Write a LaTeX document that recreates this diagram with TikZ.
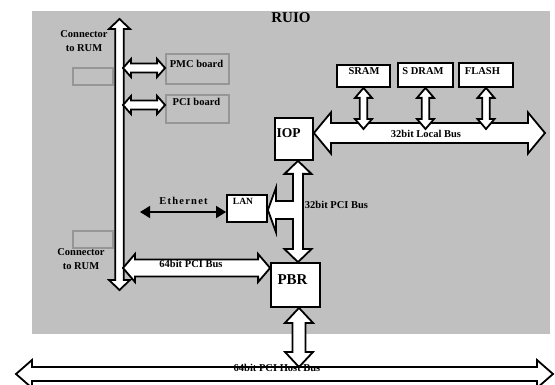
\documentclass[tikz,border=0pt]{standalone}
\usepackage{fontspec}
\setmainfont{Liberation Serif}
\usetikzlibrary{calc,arrows.meta}

\definecolor{panelgray}{RGB}{192,192,192}
\definecolor{boardgray}{RGB}{150,150,150}

% Outlined double-headed block arrow between two points.
% #1 start, #2 end, #3 shaft half width, #4 head half width, #5 head length
\newcommand\blockarrow[5]{%
  \path (#1) coordinate (ba-a) (#2) coordinate (ba-b);
  \path ($(ba-a)!#5!(ba-b)$) coordinate (ba-p)
        ($(ba-b)!#5!(ba-a)$) coordinate (ba-q);
  \draw[busarrow] (ba-a)
    -- ($(ba-p)!#4!90:(ba-b)$) -- ($(ba-p)!#3!90:(ba-b)$)
    -- ($(ba-q)!#3!-90:(ba-a)$) -- ($(ba-q)!#4!-90:(ba-a)$)
    -- (ba-b)
    -- ($(ba-q)!#4!90:(ba-a)$) -- ($(ba-q)!#3!90:(ba-a)$)
    -- ($(ba-p)!#3!-90:(ba-b)$) -- ($(ba-p)!#4!-90:(ba-b)$)
    -- cycle;
}

\begin{document}
\begin{tikzpicture}[x=1pt,y=-1pt,
  busarrow/.style={draw=black, fill=white, line width=1.8pt, line join=miter},
  chip/.style={draw=black, fill=white, line width=1.8pt, inner sep=0},
  board/.style={draw=boardgray, line width=1.8pt, inner sep=0},
  lbl/.style={font=\fontsize{10.5}{14}\selectfont\bfseries, inner sep=0, align=center},
  biglbl/.style={font=\fontsize{14}{16}\selectfont\bfseries, inner sep=0},
]
\useasboundingbox (0,0) rectangle (555,385);

% RUIO card area
\fill[panelgray] (32,11) rectangle (550,334);
\node[biglbl, font=\fontsize{15}{17}\selectfont\bfseries] (ruio) at (291,17.5) {RUIO};

% connectors and boards
\node[board, minimum width=40, minimum height=17] (conntop) at (93,76.5) {};
\node[board, minimum width=40, minimum height=17] (connbot) at (93,239.5) {};
\node[board, minimum width=63, minimum height=30] (pmc) at (197.5,69) {};
\node[board, minimum width=63, minimum height=28] (pcib) at (197.5,109) {};

% chips
\node[chip, minimum width=38, minimum height=42] (iop) at (294,139) {};
\node[chip, minimum width=49, minimum height=44] (pbr) at (295.5,285) {};
\node[chip, minimum width=40, minimum height=27] (lan) at (247,208.5) {};
\node[chip, minimum width=53, minimum height=22] (sram) at (363.5,76) {};
\node[chip, minimum width=55, minimum height=24] (sdram) at (425.5,75) {};
\node[chip, minimum width=54, minimum height=24] (flash) at (486,75) {};

% reference points for the buses
\coordinate (busT) at (119.5,19);
\coordinate (busB) at (119.5,290);
\coordinate (pmcL) at (123,68);
\coordinate (pcibL) at (123,105);
\coordinate (pci64L) at (123,268);
\coordinate (lbusR) at (545,133);
\coordinate (lbtop) at (0,129);
\coordinate (pcix) at (298,0);
\coordinate (hostx) at (299,0);
\coordinate (hostL) at (16,374);
\coordinate (hostR) at (553,374);
\coordinate (hosttop) at (0,367);
\coordinate (brY) at (0,210);
\coordinate (ethL) at (140,212);

% backplane connector bus
\blockarrow{busT}{busB}{4.2pt}{10.5pt}{10pt}
\blockarrow{pmcL}{pmcL -| pmc.west}{4.5pt}{9pt}{8pt}
\blockarrow{pcibL}{pcibL -| pcib.west}{4.5pt}{9pt}{8pt}
\blockarrow{pci64L}{pci64L -| pbr.west}{8.5pt}{14pt}{12pt}

% 32bit local bus and memories
\blockarrow{lbusR -| iop.east}{lbusR}{10pt}{20.5pt}{17pt}
\blockarrow{sram.south}{sram.south |- lbtop}{3.8pt}{8.5pt}{10pt}
\blockarrow{sdram.south}{sdram.south |- lbtop}{3.8pt}{8.5pt}{10pt}
\blockarrow{flash.south}{flash.south |- lbtop}{3.8pt}{8.5pt}{10pt}

% 32bit PCI bus with branch to the LAN controller
\blockarrow{iop.south -| pcix}{pbr.north -| pcix}{5pt}{13.5pt}{13pt}
\coordinate (lantip) at (lan.east |- brY);
\fill[white] (lantip) -- ++(8,-22) -- ++(0,13) -- ++(21,0) -- ++(0,18)
  -- ++(-21,0) -- ++(0,13) -- cycle;
\draw[busarrow] (lantip) ++(26,-9) -- ++(-18,0) -- ++(0,-13) -- (lantip)
  -- ++(8,22) -- ++(0,-13) -- ++(18,0);

% Ethernet link
\draw[line width=1.3pt, {Triangle[length=10pt,width=12pt]}-{Triangle[length=10pt,width=12pt]}]
  (ethL) -- (ethL -| lan.west);

% host bus
\blockarrow{pbr.south -| hostx}{hostx |- hosttop}{6.5pt}{14pt}{15pt}
\blockarrow{hostL}{hostR}{7pt}{14pt}{16pt}

% labels
\node[lbl] (conntopt) at (84,41.5) {Connector\\to RUM};
\node[lbl] (connbott) at (81,259.5) {Connector\\to RUM};
\node[lbl] (pmct) at (196.5,63.5) {PMC board};
\node[lbl] (pcibt) at (196.5,101.5) {PCI board};
\node[biglbl, font=\fontsize{13.5}{15}\selectfont\bfseries] (iopt) at (288.5,133) {IOP};
\node[biglbl, font=\fontsize{15}{17}\selectfont\bfseries] (pbrt) at (292.5,280) {PBR};
\node[lbl, font=\fontsize{9.5}{12}\selectfont\bfseries] (lant) at (243,201.5) {LAN};
\node[lbl] (sramt) at (364,71.5) {SRAM};
\node[lbl] (sdramt) at (423,71.5) {S DRAM};
\node[lbl] (flasht) at (482.5,71.5) {FLASH};
\node[lbl, font=\fontsize{10.5}{14}\selectfont\bfseries\addfontfeature{LetterSpace=12}] (etht) at (183.5,200.5) {Ethernet};
\node[lbl] (pci64t) at (191,264) {64bit PCI Bus};
\node[lbl] (pci32t) at (336.5,205) {32bit PCI Bus};
\node[lbl] (lbust) at (426,134) {32bit Local Bus};
\node[lbl] (hostt) at (277,368) {64bit PCI Host Bus};
\end{tikzpicture}
\end{document}
